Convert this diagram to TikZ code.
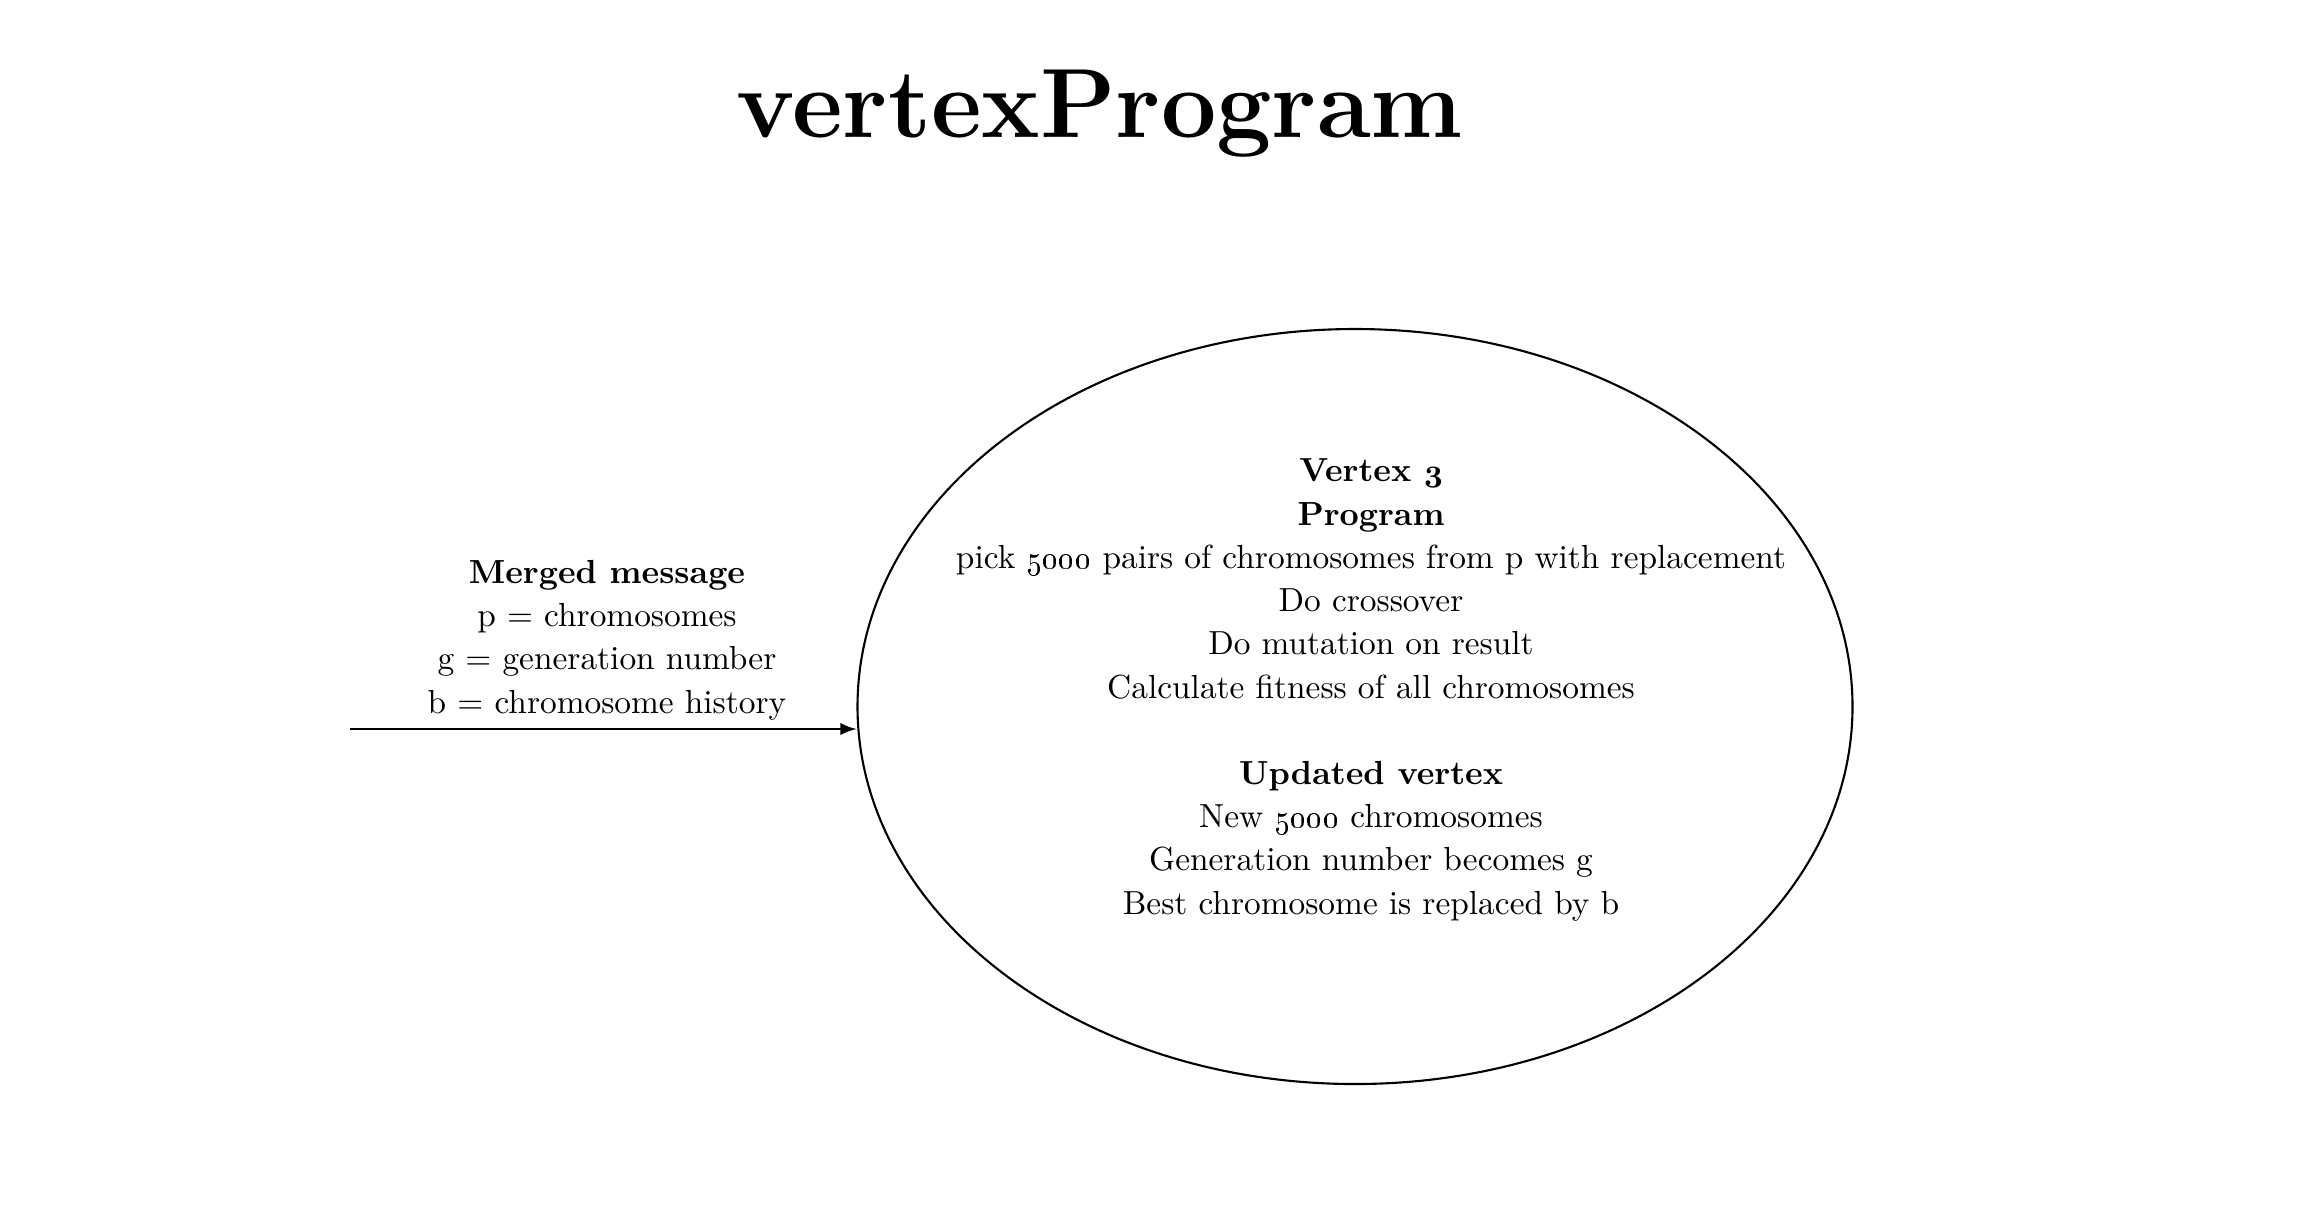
\documentclass[tikz,border=0pt]{standalone}
\usepackage{tikz}
\usetikzlibrary{calc,arrows,shapes,positioning}
\newcommand{\boldold}[1]{{\fontencoding{OML}\fontfamily{cmm}\fontseries{b}\fontshape{it}\selectfont #1}}
\tikzset{
    vertexbox/.style={
    ellipse,draw=black,line width=0.6pt,inner sep=0pt,minimum width=9.95cm,minimum height=7.55cm
    },
    msgtext/.style={
    align=center,font=\fontsize{9.5}{12.3}\selectfont
    },
    heading/.style={
    font=\fontsize{28}{32}\selectfont\bfseries
    },
    flow/.style={
    -latex,line width=0.6pt
    },
}

\begin{document}
\begin{tikzpicture}
   \useasboundingbox (0,0) rectangle (23.22,-12.14);

   %title
   \node[heading,anchor=base] (title) at (11.0,-1.37) {vertexProgram};

   %vertex
   \node[vertexbox] (vp) at (13.55,-7.065) {};
   \node[msgtext] (prog) at (13.71,-6.90) {\textbf{Vertex \boldold{3}}\\
     \textbf{Program}\\
     pick \oldstylenums{5000} pairs of chromosomes from p with replacement\\
     Do crossover\\
     Do mutation on result\\
     Calculate fitness of all chromosomes\\[12.3pt]
     \textbf{Updated vertex}\\
     New \oldstylenums{5000} chromosomes\\
     Generation number becomes g\\
     Best chromosome is replaced by b};

   %message
   \node[msgtext] (merged) at (6.07,-6.40) {\textbf{Merged message}\\
     p = chromosomes\\
     g = generation number\\
     b = chromosome history};
   \coordinate (src) at (3.495,-7.29);

   \draw[flow] (src) -- (src -| vp.west);
\end{tikzpicture}
\end{document}
